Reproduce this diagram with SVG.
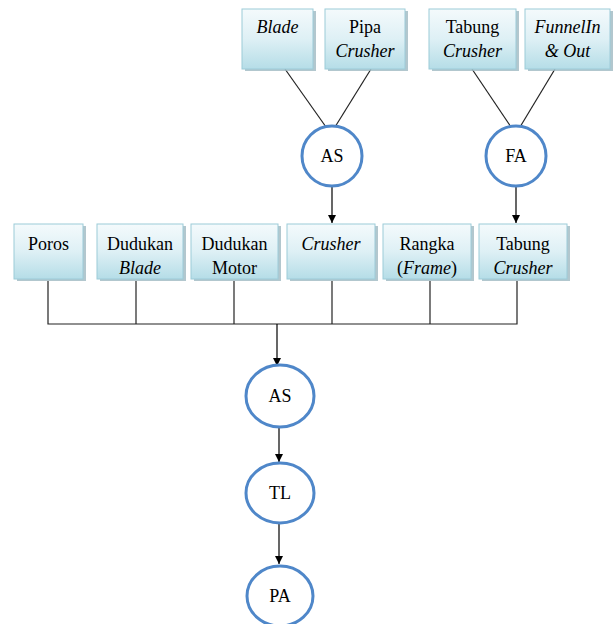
<svg xmlns="http://www.w3.org/2000/svg" width="616" height="624" viewBox="0 0 616 624">
<defs>
<linearGradient id="g" x1="0" y1="0" x2="0" y2="1">
<stop offset="0" stop-color="#f4fafc"/>
<stop offset="0.5" stop-color="#def0f5"/>
<stop offset="1" stop-color="#b5dde7"/>
</linearGradient>
<marker id="ah" viewBox="0 0 10 10" refX="10" refY="5" markerWidth="8" markerHeight="8" markerUnits="userSpaceOnUse" orient="auto">
<path d="M0,0 L10,5 L0,10 z" fill="#000"/>
</marker>
</defs>
<style>
.box{fill:url(#g);stroke:#9ccbd8;stroke-width:1}
.sh{fill:#9fb9c2;opacity:0.8}
.c{fill:#fff;stroke:#4f87c9;stroke-width:3}
.t{font-family:"Liberation Serif","Times New Roman",serif;font-size:18px;fill:#000;text-anchor:middle}
.i{font-style:italic}
.ln{stroke:#222;stroke-width:1.2;fill:none}
.ar{stroke:#000;stroke-width:1.2;fill:none;marker-end:url(#ah)}
</style>
<rect width="616" height="624" fill="#fff"/>
<g id="connectors">
<line class="ln" x1="285" y1="69" x2="326" y2="127"/>
<line class="ln" x1="371" y1="69" x2="335" y2="127"/>
<line class="ln" x1="472" y1="69" x2="511" y2="127"/>
<line class="ln" x1="555" y1="69" x2="520" y2="127"/>
<line class="ar" x1="332" y1="187" x2="332" y2="223"/>
<line class="ar" x1="516" y1="187" x2="516" y2="223"/>
<polyline class="ln" points="48,281 48,324 517,324 517,281"/>
<line class="ln" x1="136" y1="281" x2="136" y2="324"/>
<line class="ln" x1="234" y1="281" x2="234" y2="324"/>
<line class="ln" x1="332" y1="281" x2="332" y2="324"/>
<line class="ln" x1="430" y1="281" x2="430" y2="324"/>
<line class="ar" x1="277" y1="324" x2="277" y2="366"/>
<line class="ar" x1="279" y1="428" x2="279" y2="462"/>
<line class="ar" x1="279" y1="524" x2="279" y2="564"/>
</g>
<g id="n-blade"><rect class="sh" x="245" y="11" width="71" height="60"/><rect class="box" x="242" y="9" width="71" height="60"/><text class="t i" x="277.5" y="33">Blade</text></g>
<g id="n-pipa"><rect class="sh" x="328" y="11" width="80" height="60"/><rect class="box" x="325" y="9" width="80" height="60"/><text class="t" x="365" y="33">Pipa</text><text class="t i" x="365" y="57">Crusher</text></g>
<g id="n-tabung1"><rect class="sh" x="432" y="11" width="87" height="60"/><rect class="box" x="429" y="9" width="87" height="60"/><text class="t" x="472.5" y="33">Tabung</text><text class="t i" x="472.5" y="57">Crusher</text></g>
<g id="n-funnel"><rect class="sh" x="528" y="11" width="85" height="60"/><rect class="box" x="525" y="9" width="85" height="60"/><text class="t i" x="567.5" y="33">FunnelIn</text><text class="t i" x="567.5" y="57">&amp; Out</text></g>
<g id="n-as1"><circle class="c" cx="332" cy="156" r="30"/><text class="t" x="332" y="162">AS</text></g>
<g id="n-fa"><circle class="c" cx="516" cy="156" r="30"/><text class="t" x="516" y="162">FA</text></g>
<g id="n-poros"><rect class="sh" x="17" y="226" width="69" height="55"/><rect class="box" x="14" y="224" width="69" height="55"/><text class="t" x="48.5" y="250">Poros</text></g>
<g id="n-dblade"><rect class="sh" x="100" y="226" width="86" height="55"/><rect class="box" x="97" y="224" width="86" height="55"/><text class="t" x="140" y="250">Dudukan</text><text class="t i" x="140" y="274">Blade</text></g>
<g id="n-dmotor"><rect class="sh" x="194" y="226" width="87" height="55"/><rect class="box" x="191" y="224" width="87" height="55"/><text class="t" x="234.5" y="250">Dudukan</text><text class="t" x="234.5" y="274">Motor</text></g>
<g id="n-crusher"><rect class="sh" x="290" y="226" width="88" height="55"/><rect class="box" x="287" y="224" width="88" height="55"/><text class="t i" x="331" y="250">Crusher</text></g>
<g id="n-rangka"><rect class="sh" x="386" y="226" width="88" height="55"/><rect class="box" x="383" y="224" width="88" height="55"/><text class="t" x="427" y="250">Rangka</text><text class="t" x="427" y="274">(<tspan class="i">Frame</tspan>)</text></g>
<g id="n-tabung2"><rect class="sh" x="482" y="226" width="88" height="55"/><rect class="box" x="479" y="224" width="88" height="55"/><text class="t" x="523" y="250">Tabung</text><text class="t i" x="523" y="274">Crusher</text></g>
<g id="n-as2"><ellipse class="c" cx="280" cy="396" rx="34" ry="31"/><text class="t" x="280" y="402">AS</text></g>
<g id="n-tl"><ellipse class="c" cx="280" cy="493" rx="34" ry="30"/><text class="t" x="280" y="499">TL</text></g>
<g id="n-pa"><ellipse class="c" cx="280" cy="596" rx="33" ry="30"/><text class="t" x="280" y="602">PA</text></g>
</svg>
